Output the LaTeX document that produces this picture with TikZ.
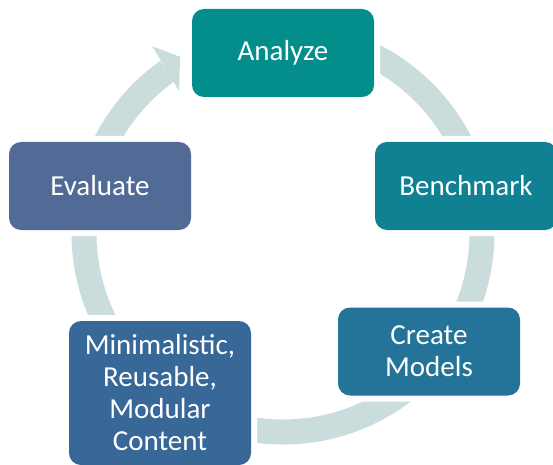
\documentclass[tikz,border=0pt]{standalone}
\usepackage{fontspec}
\setmainfont{Carlito}
\definecolor{ringgray}{RGB}{203,220,220}
\definecolor{analyzeteal}{RGB}{3,142,139}
\definecolor{benchteal}{RGB}{16,128,147}
\definecolor{createblue}{RGB}{35,116,152}
\definecolor{contentblue}{RGB}{56,104,151}
\definecolor{evalblue}{RGB}{82,106,150}

\begin{document}
\begin{tikzpicture}[x=1pt, y=1pt,
  stage/.style={rounded corners=12pt, minimum width=182pt, minimum height=88pt,
    inner sep=0pt, align=center, text=white, font=\fontsize{29}{32}\selectfont,
    preaction={draw=white, line width=12pt}}]
\useasboundingbox (0,0) rectangle (553,464);
\coordinate (hub) at (283,231);
% the cycle ring, arrow head pointing to the top stage
\draw [ringgray, line width=25pt] ([shift={(125.5:199)}]hub) arc[start angle=125.5, end angle=460, radius=199pt];
\fill [ringgray] ([shift={(125:228)}]hub) -- ([shift={(120.3:204)}]hub) -- ([shift={(126.2:176)}]hub) -- cycle;
% stages
\node [stage, fill=analyzeteal] (analyze) at (283,411) {Analyze};
\node [stage, fill=benchteal] (benchmark) at (466,278) {Benchmark};
\node [stage, fill=createblue] (create) at (429,112.5) {Create\\Models};
\node [stage, fill=contentblue, minimum height=144pt] (content) at (160,71) {Minimalistic,\\Reusable,\\Modular\\Content};
\node [stage, fill=evalblue] (evaluate) at (100,278) {Evaluate};
\end{tikzpicture}
\end{document}
